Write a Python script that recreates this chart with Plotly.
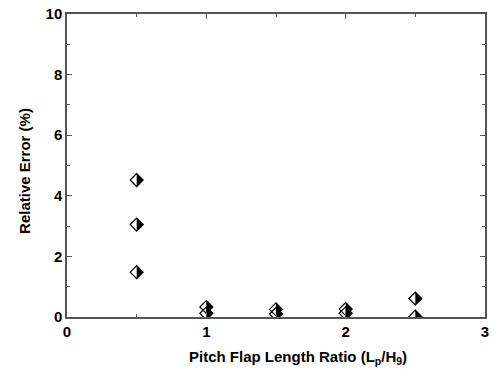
import plotly.graph_objects as go

# Data
ratio = [0.5, 0.5, 0.5, 1.0, 1.0, 1.5, 1.5, 2.0, 2.0, 2.5, 2.5]
rel_error = [4.52, 3.05, 1.48, 0.33, 0.12, 0.25, 0.10, 0.26, 0.12, 0.61, 0.01]

x_ticks = [0, 1, 2, 3]
y_ticks = [0, 2, 4, 6, 8, 10]

x_title = "Pitch Flap Length Ratio (L<sub>p</sub>/H<sub>9</sub>)"
y_title = "Relative Error (%)"

W, H = 495, 378
ML, MR, MT, MB = 67, 10, 14, 61
X_RANGE = [0, 3]

DIA = 10                      # diamond marker size (px); half-diagonal = 0.65*DIA
# triangle-ne rotated 45deg: hypotenuse half-length = 1.273*r, r = size/2
TRI = 2 * (0.65 * DIA) / 1.273
# its hypotenuse sits 0.424*r left of its centre -> shift it right onto the diamond centre
px_per_unit = (W - ML - MR) / (X_RANGE[1] - X_RANGE[0])
shift = 0.424 * (TRI / 2) / px_per_unit
ratio_half = [v + shift for v in ratio]

fig = go.Figure()
# right half of each diamond filled black
fig.add_trace(go.Scatter(
    x=ratio_half, y=rel_error, mode="markers", showlegend=False, hoverinfo="skip",
    marker=dict(symbol="triangle-ne", size=TRI, angle=45, color="black",
                line=dict(width=0)),
))
# diamond outline
fig.add_trace(go.Scatter(
    x=ratio, y=rel_error, mode="markers", showlegend=False,
    marker=dict(symbol="diamond-open", size=DIA, color="black",
                line=dict(color="black", width=1.2)),
))

FAM = "Liberation Sans, Arial, sans-serif"
font_tick = dict(family=FAM, size=15, color="black", weight="bold")
font_title = dict(family=FAM, size=15, color="black", weight="bold")
axis_common = dict(
    showline=True, linecolor="#555", linewidth=1.5, mirror="ticks",
    ticks="inside", ticklen=5, tickwidth=1.3, tickcolor="#555",
    showgrid=False, zeroline=False, tickfont=font_tick, automargin=False,
)

fig.update_xaxes(
    range=X_RANGE, tickvals=x_ticks, ticktext=[str(v) for v in x_ticks],
    minor=dict(dtick=0.5, ticks="inside", ticklen=3, tickwidth=1.2, tickcolor="#555"),
    **axis_common,
)
fig.update_yaxes(
    range=[0, 10], tickvals=y_ticks, ticktext=[str(v) for v in y_ticks],
    minor=dict(dtick=1, ticks="inside", ticklen=3, tickwidth=1.2, tickcolor="#555"),
    **axis_common,
)

fig.add_annotation(text=x_title, xref="paper", yref="paper", x=0.553, y=0,
                   xanchor="center", yanchor="middle", yshift=-40,
                   showarrow=False, font=font_title)
fig.add_annotation(text=y_title, xref="paper", yref="paper", x=0, y=0.482,
                   xanchor="center", yanchor="middle", xshift=-42, textangle=-90,
                   showarrow=False, font=font_title)

fig.update_layout(
    width=W, height=H,
    margin=dict(l=ML, r=MR, t=MT, b=MB),
    plot_bgcolor="white", paper_bgcolor="white",
    font=dict(family=FAM, color="black"),
)

fig.write_html("out.html", config={"displayModeBar": False},
               post_script="document.body.style.margin='0';document.body.style.padding='0';")
